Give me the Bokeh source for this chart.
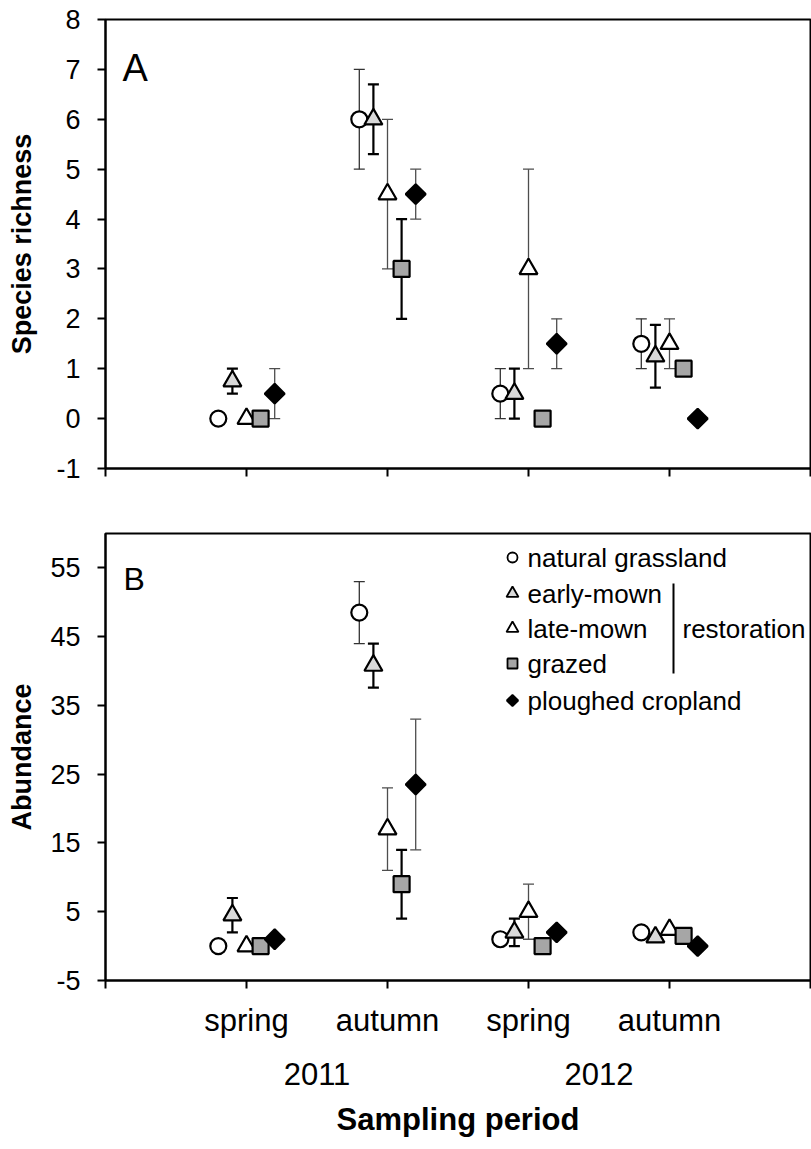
import math
from bokeh.plotting import figure
from bokeh.models import (Range1d, FixedTicker, LinearAxis, Whisker, TeeHead,
                          ColumnDataSource, Label)
from bokeh.layouts import column
from bokeh.embed import file_html
from bokeh.resources import INLINE

# ---------------- data ----------------
periods = ["spring", "autumn", "spring", "autumn"]
years = ["2011", "2012"]
series = ["natural grassland", "early-mown", "late-mown", "grazed", "ploughed cropland"]

rich_natural = [0, 6, 0.5, 1.5]
rich_natural_err = [0, 1, 0.5, 0.5]
rich_early = [0.75, 6, 0.5, 1.25]
rich_early_err = [0.25, 0.7, 0.5, 0.63]
rich_late = [0, 4.5, 3, 1.5]
rich_late_err = [0, 1.5, 2, 0.5]
rich_grazed = [0, 3, 0, 1]
rich_grazed_err = [0, 1, 0, 0]
rich_ploughed = [0.5, 4.5, 1.5, 0]
rich_ploughed_err = [0.5, 0.5, 0.5, 0]

abund_natural = [0, 48.5, 1, 2]
abund_natural_err = [0, 4.5, 0, 0]
abund_early = [4.5, 40.8, 2, 1.3]
abund_early_err = [2.5, 3.2, 2, 0]
abund_late = [0, 17, 5, 2.4]
abund_late_err = [0, 6, 4, 0]
abund_grazed = [0, 9, 0, 1.5]
abund_grazed_err = [0, 5, 0, 0]
abund_ploughed = [1, 23.5, 2, 0]
abund_ploughed_err = [0, 9.5, 0, 0]

rich_ticks = [-1, 0, 1, 2, 3, 4, 5, 6, 7, 8]
abund_ticks = [-5, 5, 15, 25, 35, 45, 55]

# ---------------- styles ----------------
FONT = "Liberation Sans"
offsets = [-0.2, -0.1, 0.0, 0.1, 0.2]
styles = [
    dict(marker="circle", size=16, fill="white", angle=0.0, ecol="#333333", ew=1.3),
    dict(marker="triangle", size=18, fill="#d9d9d9", angle=0.0, ecol="black", ew=2.2),
    dict(marker="triangle", size=18, fill="white", angle=0.0, ecol="#4d4d4d", ew=1.3),
    dict(marker="square", size=16, fill="#a6a6a6", angle=0.0, ecol="black", ew=2.2),
    dict(marker="square", size=14, fill="black", angle=math.pi / 4, ecol="#4d4d4d", ew=1.3),
]
legend_sizes = [10, 12, 12, 10, 8]

W = 811
LEFT, RIGHT = 105, 1


def tick_text(t):
    return ("-" + str(abs(t))) if t < 0 else str(t)


def style_axes(p):
    p.xgrid.grid_line_color = None
    p.ygrid.grid_line_color = None
    p.outline_line_color = "black"
    p.outline_line_width = 2
    p.background_fill_color = "white"
    p.border_fill_color = "white"
    for ax in p.axis:
        ax.axis_line_width = 2
        ax.axis_line_color = "black"
        ax.major_tick_line_width = 2
        ax.major_tick_line_color = "black"
        ax.major_tick_out = 8
        ax.major_tick_in = 0
        ax.minor_tick_line_color = None
        ax.major_label_text_font = FONT
        ax.major_label_text_color = "black"
        ax.axis_label_text_font = FONT
        ax.axis_label_text_font_style = "bold"
        ax.axis_label_text_color = "black"
    p.yaxis.major_label_text_font_size = "27px"
    p.yaxis.major_label_standoff = 17
    p.yaxis.axis_label_text_font_size = "27px"


def draw_series(p, groups):
    x_groups = [1, 2, 3, 4]
    for (vals, errs), st, off in zip(groups, styles, offsets):
        xs = [g + off for g in x_groups]
        ex = [x for x, e in zip(xs, errs) if e > 0]
        ey = [v for v, e in zip(vals, errs) if e > 0]
        ee = [e for e in errs if e > 0]
        if ex:
            src = ColumnDataSource(dict(x=ex, up=[a + b for a, b in zip(ey, ee)],
                                        lo=[a - b for a, b in zip(ey, ee)]))
            wk = Whisker(source=src, base="x", upper="up", lower="lo", dimension="height",
                         line_color=st["ecol"], line_width=st["ew"],
                         upper_head=TeeHead(size=11, line_color=st["ecol"], line_width=st["ew"]),
                         lower_head=TeeHead(size=11, line_color=st["ecol"], line_width=st["ew"]))
            p.add_layout(wk)
    for (vals, errs), st, off in zip(groups, styles, offsets):
        xs = [g + off for g in x_groups]
        p.scatter(xs, vals, marker=st["marker"], size=st["size"], angle=st["angle"],
                  fill_color=st["fill"], line_color="black", line_width=2.2)


# ---------------- panel A ----------------
A_TOP, A_FH, A_BOT = 19, 449, 32
pA = figure(width=W, height=A_TOP + A_FH + A_BOT, output_backend="svg", toolbar_location=None,
            x_range=Range1d(0, 5), y_range=Range1d(-1, 8),
            min_border_left=LEFT, min_border_right=RIGHT,
            min_border_top=A_TOP, min_border_bottom=A_BOT)
pA.xaxis.ticker = FixedTicker(ticks=[0, 1, 2, 3, 4, 5])
pA.xaxis.major_label_overrides = {t: "" for t in [0, 1, 2, 3, 4, 5]}
pA.xaxis.major_label_text_font_size = "1px"
pA.yaxis.ticker = FixedTicker(ticks=rich_ticks)
pA.yaxis.major_label_overrides = {t: tick_text(t) for t in rich_ticks}
pA.yaxis.axis_label = "Species richness"
style_axes(pA)
pA.yaxis.axis_label_standoff = 16
draw_series(pA, [(rich_natural, rich_natural_err), (rich_early, rich_early_err),
                 (rich_late, rich_late_err), (rich_grazed, rich_grazed_err),
                 (rich_ploughed, rich_ploughed_err)])


def a_px2x(px):
    return (px - LEFT) * 5 / 705


def a_py2y(py):
    return 8 - (py - A_TOP) * 9 / A_FH


pA.add_layout(Label(x=a_px2x(122), y=a_py2y(67), text="A", text_font=FONT,
                    text_font_size="38px", text_color="black", text_baseline="alphabetic"))

# ---------------- panel B ----------------
B_TOP, B_FH, B_BOT = 33, 447, 169
pB = figure(width=W, height=B_TOP + B_FH + B_BOT, output_backend="svg", toolbar_location=None,
            x_range=Range1d(0, 5), y_range=Range1d(-5, 60),
            min_border_left=LEFT, min_border_right=RIGHT,
            min_border_top=B_TOP, min_border_bottom=B_BOT)
cat_ticks = [0, 1, 2, 3, 4, 5]
pB.xaxis.ticker = FixedTicker(ticks=cat_ticks)
ov = {0: "", 5: ""}
for i, lab in enumerate(periods):
    ov[i + 1] = lab
pB.xaxis.major_label_overrides = ov
pB.yaxis.ticker = FixedTicker(ticks=abund_ticks)
pB.yaxis.major_label_overrides = {t: tick_text(t) for t in abund_ticks}
pB.yaxis.axis_label = "Abundance"

year_axis = LinearAxis(ticker=FixedTicker(ticks=[1.5, 3.5]),
                       major_label_overrides={1.5: years[0], 3.5: years[1]},
                       axis_label="Sampling period")
pB.add_layout(year_axis, "below")
style_axes(pB)
pB.yaxis.axis_label_standoff = 10
pB.xaxis.major_label_text_font_size = "31px"
pB.xaxis[0].major_label_standoff = 14
year_axis.axis_line_color = None
year_axis.major_tick_line_color = None
year_axis.major_tick_out = 0
year_axis.major_label_standoff = 22
year_axis.axis_label_text_font_size = "31px"
year_axis.axis_label_standoff = 14

draw_series(pB, [(abund_natural, abund_natural_err), (abund_early, abund_early_err),
                 (abund_late, abund_late_err), (abund_grazed, abund_grazed_err),
                 (abund_ploughed, abund_ploughed_err)])


def b_px2x(px):
    return (px - LEFT) * 5 / 705


def b_py2y(py):
    return 60 - (py - B_TOP) * 65 / B_FH


pB.add_layout(Label(x=b_px2x(123), y=b_py2y(78), text="B", text_font=FONT,
                    text_font_size="32px", text_color="black", text_baseline="alphabetic"))

# legend (drawn by hand, positions in screen pixels of panel B)
leg_rows = [57, 93, 128, 163, 200]
for name, st, ls, ry in zip(series, styles, legend_sizes, leg_rows):
    pB.scatter([b_px2x(512)], [b_py2y(ry)], marker=st["marker"], size=ls, angle=st["angle"],
               fill_color=st["fill"], line_color="black", line_width=1.8)
    pB.add_layout(Label(x=b_px2x(527), y=b_py2y(ry), text=name, text_font=FONT,
                        text_font_size="26px", text_color="black", text_baseline="middle"))
pB.line([b_px2x(673), b_px2x(673)], [b_py2y(83), b_py2y(173)], line_color="black", line_width=2)
pB.add_layout(Label(x=b_px2x(682), y=b_py2y(128), text="restoration", text_font=FONT,
                    text_font_size="26px", text_color="black", text_baseline="middle"))

layout = column(pA, pB)
open("out.html", "w").write(file_html(layout, INLINE))
